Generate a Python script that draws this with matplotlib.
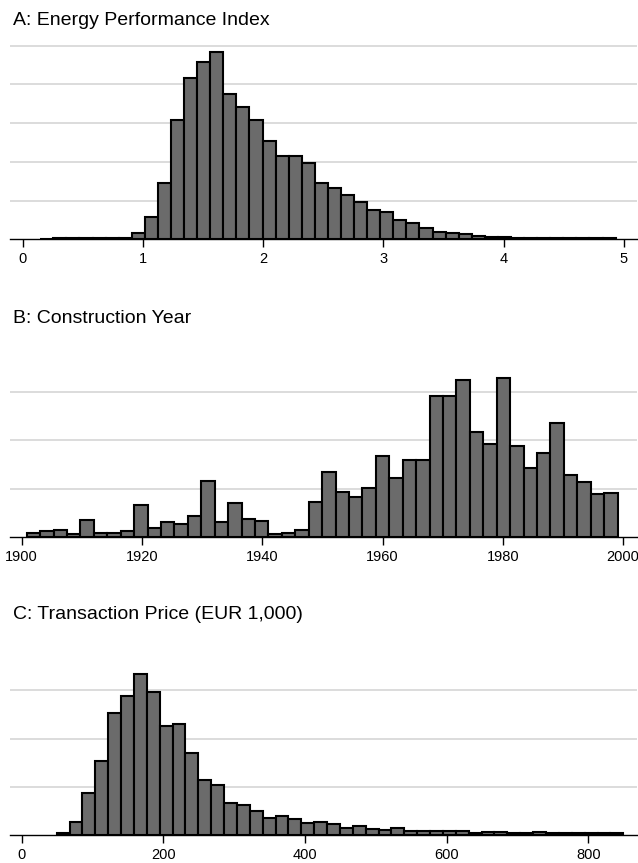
import numpy as np
import matplotlib.pyplot as plt

plt.rcParams['font.family'] = ['Liberation Sans', 'DejaVu Sans']

# panel A: energy performance index, 44 equal bins
epi_lo, epi_hi = 0.147, 4.93
epi_density = [0.02, 0.03, 0.03, 0.03, 0.03, 0.03, 0.04, 0.155, 0.586, 1.464,
               3.08, 4.16, 4.57, 4.83, 3.75, 3.41, 3.08, 2.53, 2.14, 2.14,
               1.96, 1.447, 1.326, 1.137, 0.956, 0.749, 0.698, 0.508, 0.413, 0.293,
               0.198, 0.16, 0.13, 0.09, 0.07, 0.05, 0.04, 0.03, 0.03, 0.03,
               0.03, 0.03, 0.03, 0.03]
epi_ticks = [0, 1, 2, 3, 4, 5]

# panel B: construction year
year_lo, year_hi = 1900.83, 1999.08
year_density = [0.07, 0.11, 0.13, 0.055, 0.34, 0.076, 0.076, 0.12, 0.66, 0.18,
                0.30, 0.27, 0.42, 1.155, 0.31, 0.69, 0.37, 0.33, 0.05, 0.076,
                0.145, 0.73, 1.335, 0.934, 0.816, 1.02, 1.667, 1.21, 1.60, 1.60,
                2.91, 2.925, 3.26, 2.165, 1.916, 3.285, 1.874, 1.425, 1.729, 2.35,
                1.272, 1.127, 0.878, 0.90]
year_ticks = [1900, 1920, 1940, 1960, 1980, 2000]

# panel C: transaction price in EUR 1,000
price_lo, price_hi = 49.4, 849.1
price_density = [0.035, 0.263, 0.864, 1.535, 2.53, 2.884, 3.347, 2.974, 2.261, 2.296,
                 1.70, 1.134, 1.03, 0.657, 0.622, 0.491, 0.353, 0.387, 0.339, 0.242,
                 0.263, 0.235, 0.145, 0.187, 0.118, 0.097, 0.145, 0.083, 0.076, 0.076,
                 0.083, 0.076, 0.035, 0.06, 0.06, 0.035, 0.04, 0.06, 0.04, 0.035,
                 0.035, 0.035, 0.035, 0.035]
price_ticks = [0, 200, 400, 600, 800]

W, H = 638, 863
fig = plt.figure(figsize=(W / 100, H / 100), dpi=100)


def panel(title, title_y, lo, hi, dens, ticks, xlim, base, unit, top, ngrid):
    ax = fig.add_axes([10 / W, 1 - base / H, 627 / W, (base - top) / H])
    edges = np.linspace(lo, hi, len(dens) + 1)
    ax.bar(edges[:-1], dens, width=np.diff(edges), align='edge',
           color='#6b6b6b', edgecolor='black', linewidth=1.5, zorder=2)
    ax.set_xlim(*xlim)
    ax.set_ylim(0, (base - top) / unit)
    ax.set_yticks(range(1, ngrid + 1))
    ax.set_yticklabels([])
    ax.tick_params(axis='y', length=0)
    ax.grid(axis='y', color='#d6d6d6', linewidth=1.2, zorder=0)
    ax.set_axisbelow(True)
    ax.set_xticks(ticks)
    ax.tick_params(axis='x', length=6, width=1, pad=3.5, labelsize=10.5)
    for s in ('top', 'left', 'right'):
        ax.spines[s].set_visible(False)
    ax.spines['bottom'].set_linewidth(1.0)
    fig.text(13 / W, 1 - title_y / H, title, fontsize=14, va='center', ha='left')
    return ax


panel('A: Energy Performance Index', 20.7, epi_lo, epi_hi, epi_density,
      epi_ticks, (-0.104, 5.108), 239.3, 38.7, 40, 5)
panel('B: Construction Year', 318.7, year_lo, year_hi, year_density,
      year_ticks, (1898.05, 2002.3), 536.7, 48.2, 345, 3)
panel('C: Transaction Price (EUR 1,000)', 614.8, price_lo, price_hi, price_density,
      price_ticks, (-16.5, 868.5), 835, 48.2, 645, 3)

fig.savefig('out.png', dpi=100)
